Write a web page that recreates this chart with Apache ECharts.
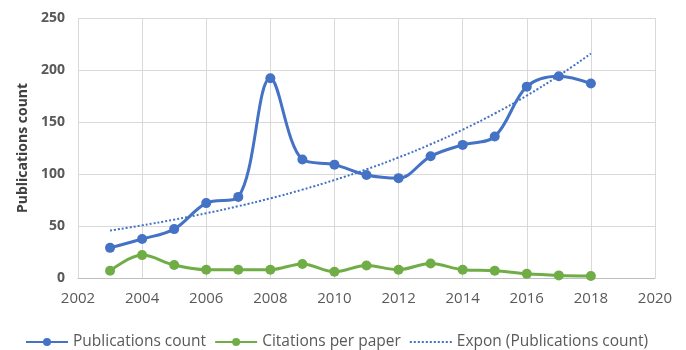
<!DOCTYPE html>
<html>
<head>
<meta charset="utf-8">
<script src="https://cdn.jsdelivr.net/npm/echarts@6/dist/echarts.min.js"></script>
<style>
  html, body { margin: 0; padding: 0; background: #ffffff; }
  #chart { width: 686px; height: 350px; }
</style>
</head>
<body>
<div id="chart"></div>
<script>
// Publication years
const years = [2003, 2004, 2005, 2006, 2007, 2008, 2009, 2010, 2011, 2012, 2013, 2014, 2015, 2016, 2017, 2018];
// Number of publications per year
const publications = [29, 37.5, 47, 72, 78, 192, 114, 109, 99, 96, 117, 128, 136, 184, 194, 187];
// Average citations per paper per year
const citations = [7, 22, 12.5, 8, 8, 8, 13.5, 6, 12, 8, 14, 8, 7, 4, 2.5, 2];
// Axis ticks
const xTicks = [2002, 2004, 2006, 2008, 2010, 2012, 2014, 2016, 2018, 2020];
const yTicks = [0, 50, 100, 150, 200, 250];

// Exponential trendline: least-squares fit of ln(count) against year
function exponentialFit(xs, ys) {
  const n = xs.length;
  const lx = xs.map(v => v - xs[0]);
  const ly = ys.map(v => Math.log(v));
  const mx = lx.reduce((a, b) => a + b, 0) / n;
  const my = ly.reduce((a, b) => a + b, 0) / n;
  let sxy = 0, sxx = 0;
  for (let i = 0; i < n; i++) {
    sxy += (lx[i] - mx) * (ly[i] - my);
    sxx += (lx[i] - mx) * (lx[i] - mx);
  }
  const b = sxy / sxx;
  const a = my - b * mx;
  return xs.map((x, i) => [x, Math.exp(a + b * lx[i])]);
}

const blue = '#4472C4';
const green = '#70AD47';
const labelColor = '#595959';
const font = 'Open Sans';

const chart = echarts.init(document.getElementById('chart'), null, { renderer: 'canvas' });
chart.setOption({
  animation: false,
  backgroundColor: '#ffffff',
  textStyle: { fontFamily: font },
  grid: { left: 78, right: 31, top: 18, bottom: 72, containLabel: false },
  xAxis: {
    type: 'value',
    min: xTicks[0],
    max: xTicks[xTicks.length - 1],
    interval: xTicks[1] - xTicks[0],
    axisLine: { show: true, lineStyle: { color: '#bfbfbf', width: 1 } },
    axisTick: { show: false },
    axisLabel: {
      color: labelColor, fontFamily: font, fontSize: 15, margin: 13,
      formatter: v => String(v)
    },
    splitLine: { show: true, lineStyle: { color: '#d9d9d9', width: 1 } }
  },
  yAxis: {
    type: 'value',
    min: yTicks[0],
    max: yTicks[yTicks.length - 1],
    interval: yTicks[1] - yTicks[0],
    name: 'Publications count',
    nameLocation: 'middle',
    nameGap: 47,
    nameTextStyle: { color: '#404040', fontFamily: font, fontSize: 14, fontWeight: 'bold' },
    axisLine: { show: false },
    axisTick: { show: false },
    axisLabel: { color: labelColor, fontFamily: font, fontSize: 14, margin: 13, fontWeight: 'bold' },
    splitLine: { show: true, lineStyle: { color: '#d9d9d9', width: 1 } }
  },
  legend: {
    top: 329,
    left: 20,
    itemWidth: 42,
    itemHeight: 10,
    itemGap: 8,
    textStyle: { color: labelColor, fontFamily: font, fontSize: 15.5 },
    data: [
      'Publications count',
      'Citations per paper',
      { name: 'Expon (Publications count)', itemStyle: { opacity: 0 } }
    ]
  },
  series: [
    {
      name: 'Publications count',
      type: 'line',
      data: years.map((y, i) => [y, publications[i]]),
      smooth: 0.35,
      symbol: 'circle',
      symbolSize: 10,
      lineStyle: { color: blue, width: 3 },
      itemStyle: { color: blue },
      z: 3
    },
    {
      name: 'Citations per paper',
      type: 'line',
      data: years.map((y, i) => [y, citations[i]]),
      smooth: 0.35,
      symbol: 'circle',
      symbolSize: 10,
      lineStyle: { color: green, width: 3 },
      itemStyle: { color: green },
      z: 3
    },
    {
      name: 'Expon (Publications count)',
      type: 'line',
      data: exponentialFit(years, publications),
      smooth: true,
      symbol: 'none',
      lineStyle: { color: blue, width: 2, type: [2, 2] },
      itemStyle: { color: blue },
      z: 2
    }
  ]
});
</script>
</body>
</html>
